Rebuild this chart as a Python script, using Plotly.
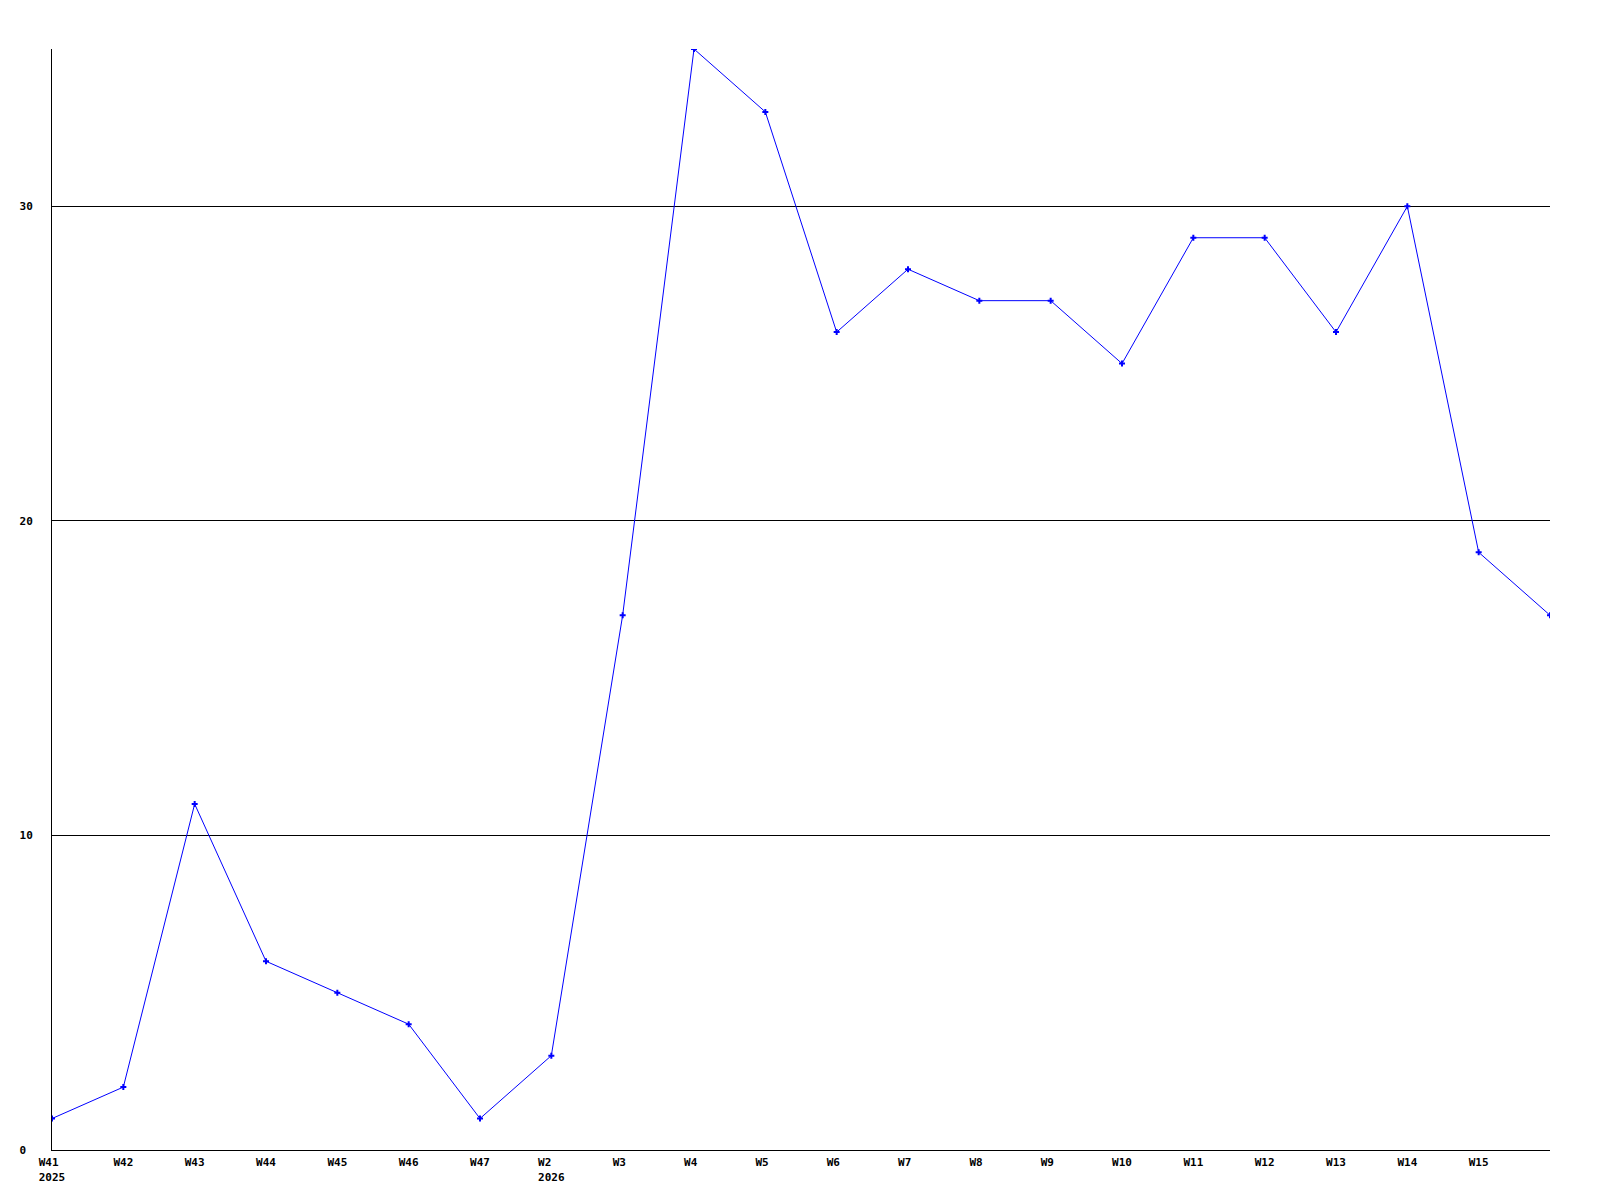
import plotly.graph_objects as go

weeks = ["W41", "W42", "W43", "W44", "W45", "W46", "W47", "W2", "W3", "W4", "W5",
         "W6", "W7", "W8", "W9", "W10", "W11", "W12", "W13", "W14", "W15", "W16"]
years = {"W41": "2025", "W2": "2026"}
counts = [1, 2, 11, 6, 5, 4, 1, 3, 17, 35, 33, 26, 28, 27, 27, 25, 29, 29, 26, 30, 19, 17]
y_ticks = [0, 10, 20, 30]

NB = "\u00a0"
x_idx = list(range(len(weeks)))
tick_vals = x_idx[:-1]
tick_text = []
for w in weeks[:-1]:
    t = w.ljust(3, NB)
    if w in years:
        t = t + NB + "<br>" + years[w]
    tick_text.append(t)

font_fam = "DejaVu Sans Mono"

fig = go.Figure()
fig.add_trace(go.Scatter(
    x=x_idx, y=counts, mode="lines+markers",
    line=dict(color="#0000ff", width=1),
    marker=dict(symbol="cross", size=5, color="#0000ff",
                line=dict(width=0)),
    showlegend=False,
))

fig.update_layout(
    width=1600, height=1200,
    margin=dict(l=42, r=58, t=41, b=58, pad=0),
    paper_bgcolor="white", plot_bgcolor="white",
    font=dict(family=font_fam, size=11, color="black"),
    xaxis=dict(
        range=[0, len(weeks) - 1], tickmode="array",
        tickvals=tick_vals, ticktext=tick_text,
        showgrid=False, zeroline=False,
        showline=True, linecolor="black", linewidth=1,
        ticks="", tickfont=dict(family=font_fam, size=11, color="black", weight="bold"),
        ticklabelstandoff=2,
    ),
    yaxis=dict(
        range=[0, 35], tickmode="array", tickvals=y_ticks,
        ticktext=[str(v).ljust(2, NB) for v in y_ticks],
        showgrid=True, gridcolor="black", gridwidth=1,
        zeroline=False, showline=True, linecolor="black", linewidth=1,
        ticks="", tickfont=dict(family=font_fam, size=11, color="black", weight="bold"),
        ticklabelstandoff=16,
    ),
)

fig.write_html("out.html")
